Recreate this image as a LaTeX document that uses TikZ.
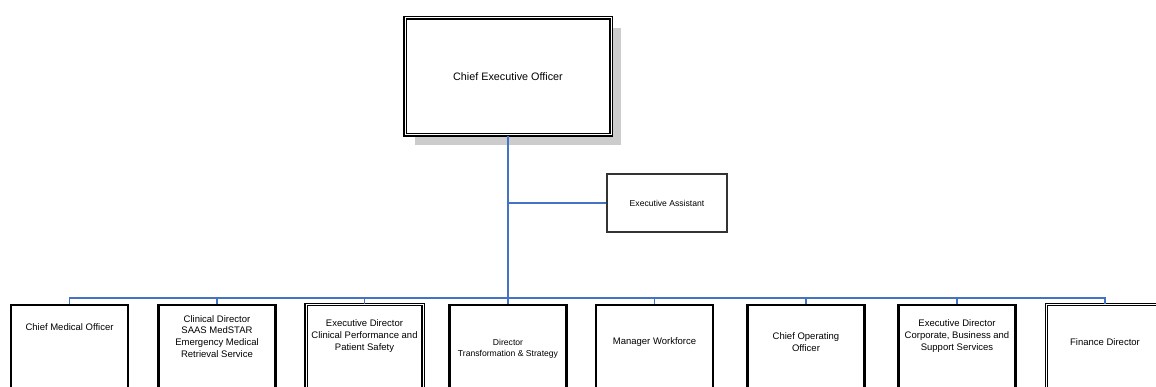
\documentclass[tikz,border=0pt]{standalone}
\usepackage{fontspec}
\setmainfont{Liberation Sans}
\usetikzlibrary{positioning,shadows}
\definecolor{linkblue}{RGB}{68,114,196}
\tikzset{
  post/.style={draw=black,line width=2.4pt,minimum width=117pt,minimum height=130pt,inner sep=0pt,anchor=north},
  dblpost/.style={post,double,double distance=1pt,line width=1.1pt},
  title/.style={font=\fontsize{9.5}{11.8}\selectfont,align=center,inner sep=0pt},
  reportline/.style={linkblue,line width=1.1pt}
}
\begin{document}
\begin{tikzpicture}[x=1pt,y=-1pt]
        \useasboundingbox (0,0) rectangle (1156,387);
        \clip (0,0) rectangle (1156,387);
        % Draw the top post
        \node[draw=black,double,double distance=1pt,line width=1.5pt,fill=white,
              minimum width=206pt,minimum height=117pt,
              drop shadow={shadow xshift=10pt,shadow yshift=-10.5pt,fill=black!20,opacity=1},
              font=\fontsize{10.8}{13}\selectfont] (ceo) at (508,76.5) {Chief Executive Officer};
        \node[draw=black!80,line width=1.3pt,minimum width=120pt,minimum height=58pt,
              font=\fontsize{8.6}{10}\selectfont] (ea) at (667,203) {Executive Assistant};
        % Draw the posts of the second row
        \node[post] (cmo) at (69.5,304) {};
        \node[post] (cd) at (217,304) {};
        \node[dblpost] (edcp) at (364.5,304) {};
        \node[post] (dts) at (508,304) {};
        \node[post] (mw) at (654.5,304) {};
        \node[post] (coo) at (806,304) {};
        \node[post] (edcb) at (957,304) {};
        \node[dblpost] (fd) at (1105,304) {};
        % Write the titles
        \node[title] (cmotext) at ([yshift=-23pt]cmo.north) {Chief Medical Officer};
        \node[title] (cdtext) at ([yshift=-32.5pt]cd.north) {Clinical Director\\SAAS MedSTAR\\Emergency Medical\\Retrieval Service};
        \node[title] (edcptext) at ([yshift=-32pt]edcp.north) {Executive Director\\Clinical Performance and\\Patient Safety};
        \node[title,font=\fontsize{8.6}{11}\selectfont] (dtstext) at ([yshift=-44.5pt]dts.north) {Director\\Transformation \& Strategy};
        \node[title] (mwtext) at ([yshift=-38pt]mw.north) {Manager Workforce};
        \node[title] (cootext) at ([yshift=-38pt]coo.north) {Chief Operating\\Officer};
        \node[title] (edcbtext) at ([yshift=-32pt]edcb.north) {Executive Director\\Corporate, Business and\\Support Services};
        \node[title] (fdtext) at ([yshift=-38pt]fd.north) {Finance Director};
        % Draw the reporting lines
        \draw[reportline] (ceo.south) -- (dts.north);
        \draw[reportline] (ea.west) -- (ea.west -| ceo.south);
        \draw[reportline] (cmo.north) -- ++(0,-6) -| (fd.north);
        \foreach \post in {cd,edcp,mw,coo,edcb}
            \draw[reportline] (\post.north) -- ++(0,-6);
\end{tikzpicture}
\end{document}
